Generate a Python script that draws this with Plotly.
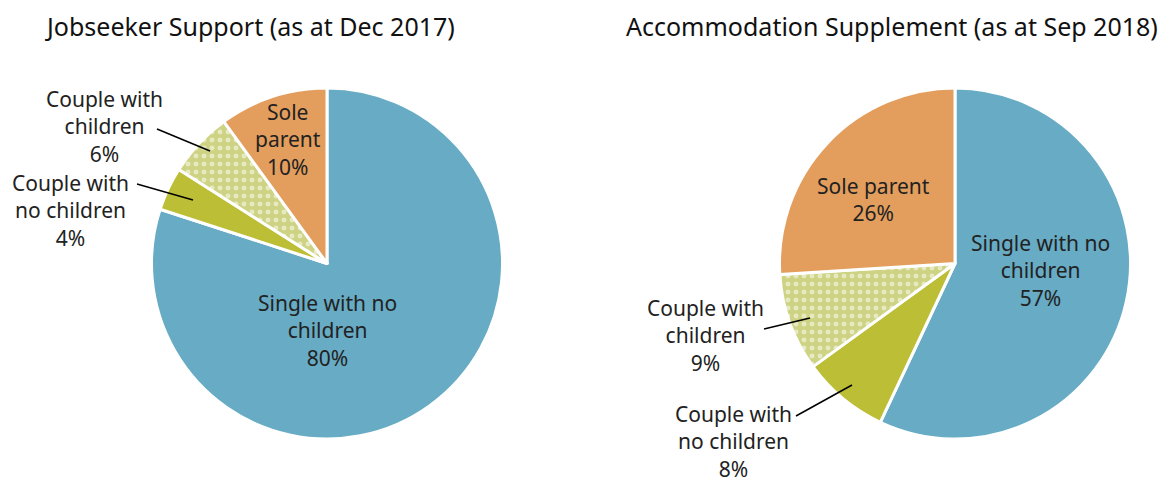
import plotly.graph_objects as go

categories = ["Single with no children", "Couple with no children", "Couple with children", "Sole parent"]
jobseeker_pct = [80, 4, 6, 10]
accommodation_pct = [57, 8, 9, 26]
titles = ["Jobseeker Support (as at Dec 2017)", "Accommodation Supplement (as at Sep 2018)"]
label_lines = {
    "Single with no children": ["Single with no", "children"],
    "Couple with no children": ["Couple with", "no children"],
    "Couple with children": ["Couple with", "children"],
    "Sole parent": ["Sole parent"],
}

colors = ["#67abc5", "#bcbe36", "#d3d88f", "#e39e5d"]
FONT = "Noto Sans"
OFF = 8  # page body margin
W, H = 1171 - OFF, 482 - OFF

def px(x):
    return (x - OFF) / W

def py(y):
    return 1 - (y - OFF) / H

fig = go.Figure()
domains = [
    dict(x=[px(151), px(503)], y=[py(439), py(88)]),
    dict(x=[px(779), px(1131)], y=[py(439), py(88)]),
]
for vals, dom in zip([jobseeker_pct, accommodation_pct], domains):
    fig.add_trace(go.Pie(
        labels=categories, values=vals, sort=False, direction="clockwise", rotation=0,
        domain=dom, textinfo="none", hoverinfo="label+percent",
        marker=dict(colors=colors, line=dict(color="white", width=3),
                    pattern=dict(shape=["", "", ".", ""], fgcolor="white",
                                 bgcolor=["#67abc5", "#bcbe36", "#cdd382", "#e39e5d"],
                                 size=8, solidity=0.3, fillmode="overlay")),
        showlegend=False,
    ))

def lab(cat, val, sole_split=False):
    lines = list(label_lines[cat])
    if sole_split and cat == "Sole parent":
        lines = ["Sole", "parent"]
    return "<br>".join(lines + [f"{val}%"])

annots = []
title_font = dict(family=FONT, size=25, color="#111")
annots.append(dict(x=px(250), y=py(26), text=titles[0], font=title_font))
annots.append(dict(x=px(892), y=py(26), text=titles[1], font=title_font))

lab_font = dict(family=FONT, size=21, color="#222")
left_pos = {0: (327, 330), 3: (288, 140)}
for i, p in left_pos.items():
    annots.append(dict(x=px(p[0]), y=py(p[1]), text=lab(categories[i], jobseeker_pct[i], True), font=lab_font))
right_pos = {0: (1040, 270), 3: (873, 200)}
for i, p in right_pos.items():
    annots.append(dict(x=px(p[0]), y=py(p[1]), text=lab(categories[i], accommodation_pct[i]), font=lab_font))

outside = [
    (categories[2], jobseeker_pct[2], (104, 127), (157, 129), (210, 151)),
    (categories[1], jobseeker_pct[1], (70, 210), (137, 184), (193, 200)),
    (categories[2], accommodation_pct[2], (705, 335), (764, 329), (810, 318)),
    (categories[1], accommodation_pct[1], (733, 441), (796, 416), (852, 385)),
]
shapes = []
for cat, val, tp, p0, p1 in outside:
    annots.append(dict(x=px(tp[0]), y=py(tp[1]), text=lab(cat, val), font=lab_font))
    shapes.append(dict(type="line", xref="paper", yref="paper",
                       x0=px(p0[0]), y0=py(p0[1]), x1=px(p1[0]), y1=py(p1[1]),
                       line=dict(color="black", width=1.5)))

for a in annots:
    a.update(xref="paper", yref="paper", showarrow=False, xanchor="center", yanchor="middle")

fig.update_layout(width=W, height=H, margin=dict(l=0, r=0, t=0, b=0),
                  paper_bgcolor="white", plot_bgcolor="white",
                  annotations=annots, shapes=shapes, font=dict(family=FONT))
fig.write_html("out.html")
